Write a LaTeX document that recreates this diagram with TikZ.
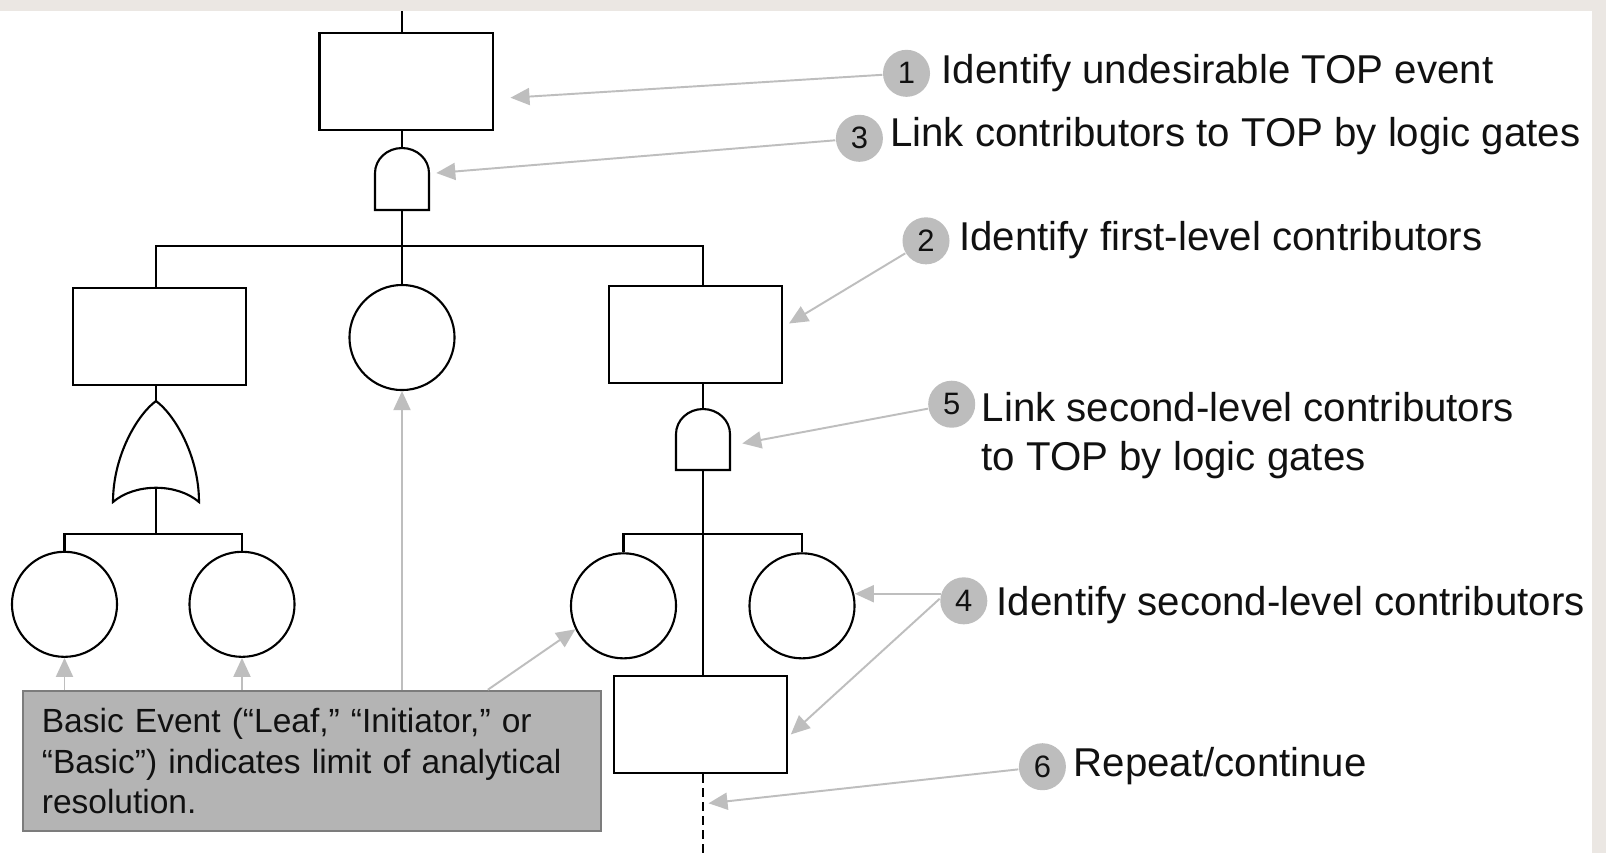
\documentclass[tikz,border=0pt]{standalone}
\usepackage{fontspec}
\setmainfont{Liberation Sans}
\usetikzlibrary{arrows.meta,calc}
\definecolor{band}{HTML}{EBE7E3}
\definecolor{arr}{HTML}{BEBEBE}
\definecolor{numgray}{HTML}{BDBDBD}
\definecolor{bfill}{HTML}{B4B4B4}
\definecolor{bdraw}{HTML}{7C7C7C}
\definecolor{ink}{HTML}{111111}
\begin{document}
\begin{tikzpicture}[x=0.01cm,y=-0.01cm,
  wire/.style={draw=black,line width=0.6pt},
  evt/.style={rectangle,draw=black,line width=0.6pt,fill=white,minimum width=1.73cm,minimum height=0.97cm,inner sep=0pt},
  basicev/.style={circle,draw=black,line width=0.6pt,fill=white,minimum size=1.05cm,inner sep=0pt},
  num/.style={circle,fill=numgray,minimum size=0.47cm,inner sep=0pt,text=ink,font=\fontsize{8.8}{8.8}\selectfont},
  lbl/.style={anchor=base west,inner sep=0pt,text=ink,align=left,font=\fontsize{11.44}{13.94}\selectfont},
  callout/.style={draw=arr,line width=0.55pt,-{Triangle[length=0.19cm,width=0.17cm]}},
  basicbox/.style={rectangle,fill=bfill,draw=bdraw,line width=0.7pt,minimum width=5.78cm,minimum height=1.40cm,text width=5.40cm,align=left,inner sep=0pt,text=ink,font=\fontsize{9.53}{11.38}\selectfont}
]
\useasboundingbox (0,0) rectangle (1606,853);
\fill[white] (0,0) rectangle (1606,853);
\fill[band] (0,0) rectangle (1606,11);
\fill[band] (1592,0) rectangle (1606,853);

% event boxes and circles
\node[evt] (top) at (406,81.3) {};
\node[evt] (lrect) at (159.6,336.4) {};
\node[evt] (rrect) at (695.3,334.3) {};
\node[evt] (brect) at (700.5,724.5) {};
\node[basicev] (cc) at (402,337.5) {};
\node[basicev] (l1) at (64.5,604.3) {};
\node[basicev] (l2) at (242,604.3) {};
\node[basicev] (r1) at (623.5,605.8) {};
\node[basicev] (r2) at (802,605.8) {};

% key coordinates
\coordinate (topin) at (402,11);
\coordinate (g1t) at (402,148);
\coordinate (g1b) at (402,210);
\coordinate (b1L) at (156,245.7);
\coordinate (b1R) at (703,245.7);
\coordinate (orT) at (156,401);
\coordinate (orB) at (156,488);
\coordinate (b2L) at (156,534);
\coordinate (g2t) at (703,409);
\coordinate (g2b) at (703,470);
\coordinate (b2R) at (703,534);
\coordinate (cont) at (703,853);

% wires
\draw[wire] (topin) -- (topin |- top.north);
\draw[wire] (g1t |- top.south) -- (g1t);
\draw[wire] (g1b) -- (cc.north);
\draw[wire] (b1L |- lrect.north) -- (b1L) -- (b1R) -- (b1R |- rrect.north);
\draw[wire] (orT |- lrect.south) -- (orT);
\draw[wire] (orB) -- (b2L);
\draw[wire] (l1.north) -- (l1.north |- b2L) -- (l2.north |- b2L) -- (l2.north);
\draw[wire] (g2t |- rrect.south) -- (g2t);
\draw[wire] (g2b) -- (g2b |- brect.north);
\draw[wire] (r1.north) -- (r1.north |- b2R) -- (r2.north |- b2R) -- (r2.north);
\draw[wire,line width=0.7pt,dash pattern=on 0.09cm off 0.05cm] (cont |- brect.south) -- (cont);

% AND gate 1
\draw[wire,fill=white] (375,210) -- (375,173)
  .. controls (375,159.2) and (387.1,148) .. (g1t)
  .. controls (416.9,148) and (429,159.2) .. (429,173) -- (429,210) -- cycle;
% AND gate 2
\draw[wire,fill=white] (676,470) -- (676,434)
  .. controls (676,420.2) and (688.1,409) .. (g2t)
  .. controls (717.9,409) and (730,420.2) .. (730,434) -- (730,470) -- cycle;
% OR gate
\draw[wire,fill=white] (113,502) .. controls (113,455) and (138,414) .. (orT)
  .. controls (174,414) and (199,455) .. (199,502)
  .. controls (177,483) and (135,483) .. (113,502) -- cycle;

% number badges
\node[num] (n1) at (906.5,73.3) {1};
\node[num] (n3) at (859.4,138.3) {3};
\node[num] (n2) at (926,240.8) {2};
\node[num] (n5) at (951.7,404.2) {5};
\node[num] (n4) at (963.8,600.8) {4};
\node[num] (n6) at (1042.4,766.7) {6};

% labels
\node[lbl] (t1) at (941,83.3) {Identify undesirable TOP event};
\node[lbl] (t3) at (889.5,146.7) {Link contributors to TOP by logic gates};
\node[lbl] (t2) at (958.6,250) {Identify first-level contributors};
\node[lbl] (t5) at (981,470.7) {Link second-level contributors\\to TOP by logic gates};
\node[lbl] (t4) at (996,615) {Identify second-level contributors};
\node[lbl] (t6) at (1073,776) {Repeat/continue};

% basic event box
\node[basicbox] (basic) at (312,761) {Basic Event (“Leaf,” “Initiator,” or\\“Basic”) indicates limit of analytical\\resolution.};

% callouts
\coordinate (a1) at (510.5,97.7);
\coordinate (a3) at (436.3,173);
\coordinate (a2) at (789,323.5);
\coordinate (a5) at (742.3,443.4);
\path (n4.163) ++(-85.8,0) coordinate (a4a);
\coordinate (a4b) at (790.8,734.4);
\coordinate (a6) at (708.5,803.3);
\coordinate (d0) at (487.8,691);
\draw[callout] (n1) -- (a1);
\draw[callout] (n3) -- (a3);
\draw[callout] (n2) -- (a2);
\draw[callout] (n5) -- (a5);
\draw[callout] (n4.163) -- (a4a);
\draw[callout] (n4.175) -- (a4b);
\draw[callout] (n6) -- (a6);
\draw[callout] (basic.north -| l1.south) -- (l1.south);
\draw[callout] (basic.north -| l2.south) -- (l2.south);
\draw[callout] (basic.north -| cc.south) -- (cc.south);
\draw[callout] (basic.north -| d0) -- (r1.206);
\end{tikzpicture}
\end{document}
